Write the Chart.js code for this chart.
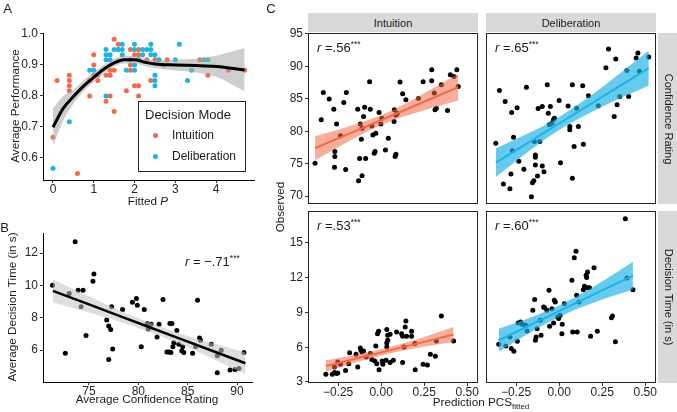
<!DOCTYPE html>
<html><head><meta charset="utf-8">
<script src="https://cdn.jsdelivr.net/npm/chart.js@4.4.0/dist/chart.umd.min.js"></script>
<style>
body{margin:0;background:#fff;}
#wrap{position:relative;width:677px;height:412px;overflow:hidden;font-family:"Liberation Sans",Arial,Helvetica,sans-serif;color:#1a1a1a;background:#fff;}
canvas{position:absolute;}
.t{position:absolute;white-space:nowrap;line-height:1;z-index:4;}
.strip{position:absolute;background:#d9d9d9;z-index:2;}
sup.s{font-size:8.5px;vertical-align:5px;line-height:0;}
sub.s{font-size:8px;vertical-align:-3px;line-height:0;}
</style></head><body><div id="wrap"></div>
<script>
// ---------- Panel A data ----------
const A_intX = [0,0.1,0.4,0.4,0.4,0.4,0.6,0.9,0.9,1.0,1.0,1.0,1.1,1.1,1.3,1.3,1.4,1.4,1.4,1.5,1.5,1.5,1.6,1.6,1.8,1.9,1.9,1.9,2.0,2.0,2.1,2.1,2.1,2.1,2.3,2.4,2.5,2.7,2.8,3.6,3.8,4.3,4.7];
const A_intY = [0.667,0.85,0.867,0.85,0.833,0.817,0.55,0.85,0.8,0.933,0.9,0.867,0.85,0.867,0.867,0.783,0.867,0.8,0.883,0.983,0.75,0.883,0.967,0.95,0.817,0.95,0.9,0.883,0.933,0.833,0.833,0.8,0.95,0.933,0.917,0.85,0.917,0.9,0.917,0.917,0.867,0.883,0.883];
const A_delX = [0,0.4,0.9,1.0,1.3,1.3,1.3,1.3,1.4,1.4,1.5,1.6,1.7,1.7,1.7,1.8,1.9,2.0,2.0,2.0,2.0,2.1,2.2,2.2,2.3,2.4,2.4,2.4,2.5,2.5,2.5,2.5,2.6,3.0,3.1,3.3,3.4,3.7,3.8];
const A_delY = [0.567,0.717,0.883,0.883,0.95,0.933,0.917,0.8,0.933,0.917,0.95,0.95,0.967,0.95,0.933,0.883,0.917,0.967,0.95,0.9,0.883,0.917,0.95,0.933,0.95,0.967,0.95,0.933,0.933,0.867,0.85,0.833,0.917,0.917,0.967,0.85,0.883,0.917,0.917];
const A_fitX = [0,0.25,0.5,0.75,1.0,1.25,1.5,1.75,2.0,2.25,2.5,3.0,3.5,4.0,4.7];
const A_fitY = [0.699,0.76,0.798,0.832,0.86,0.887,0.907,0.917,0.917,0.909,0.903,0.9,0.898,0.895,0.884];
const A_fitLo = [0.64,0.72,0.775,0.815,0.845,0.873,0.895,0.905,0.905,0.897,0.89,0.882,0.876,0.862,0.815];
const A_fitHi = [0.76,0.80,0.82,0.85,0.877,0.90,0.92,0.93,0.93,0.921,0.916,0.918,0.92,0.93,0.955];
const A_xTicks = [0,1,2,3,4];
const A_yTicks = [0.6,0.7,0.8,0.9,1.0];

// ---------- Panel B data ----------
const B_x = [71.3,73.0,72.6,73.6,73.9,74.4,74.2,74.7,75.5,75.4,76.8,77.0,77.2,77.0,77.3,77.4,78.4,79.4,79.8,79.9,80.3,80.6,80.9,81.0,81.3,81.9,82.1,82.5,82.9,83.1,83.2,83.4,83.3,83.5,83.6,83.9,84.1,84.5,84.4,84.6,85.5,85.8,86.2,86.0,86.3,87.4,88.0,88.0,88.4,89.3,89.8,90.2,90.7];
const B_y = [10.0,9.5,5.8,12.7,9.7,9.7,8.67,6.9,10.7,10.25,7.85,7.48,7.27,5.42,8.67,6.06,8.5,8.96,9.18,8.77,6.2,8.5,7.64,7.3,7.6,6.8,7.6,9.12,5.88,5.88,7.64,7.64,5.84,6.2,6.45,7.2,6.35,6.2,5.96,5.84,5.8,6.2,6.74,9.08,6.6,6.35,5.65,4.6,5.98,4.76,4.8,4.85,5.84];
const B_fitX = [71.34,75,78,81,84,87,90.85];
const B_fitY = [9.66,8.82,8.13,7.44,6.75,6.06,5.18];
const B_fitLo = [8.96,8.32,7.78,7.14,6.43,5.61,4.5];
const B_fitHi = [10.36,9.32,8.48,7.74,7.07,6.51,5.86];
const B_xTicks = [75,80,85,90];
const B_yTicks = [6,8,10,12];

// ---------- Panel C data ----------
const C_xTicks = [-0.25,0,0.25,0.5];
const C_confTicks = [70,75,80,85,90,95];
const C_timeTicks = [3,6,9,12,15];

const CI_conf_x = [-0.384,-0.348,-0.336,-0.302,-0.275,-0.269,-0.269,-0.271,-0.259,-0.236,-0.217,-0.206,-0.202,-0.136,-0.131,-0.125,-0.121,-0.115,-0.111,-0.111,-0.102,-0.096,-0.09,-0.067,-0.063,-0.054,-0.048,-0.04,-0.035,-0.031,-0.012,-0.002,0.004,0.025,0.042,0.075,0.077,0.081,0.086,0.086,0.094,0.11,0.125,0.144,0.217,0.244,0.294,0.294,0.309,0.313,0.321,0.35,0.386,0.402,0.423,0.44,0.448];
const CI_conf_y = [75.05,81.75,85.98,84.95,83.4,76.85,76.08,74.43,81.13,79.28,84.43,74.1,85.98,83.4,72.37,75.8,81.13,78.76,73.14,80.46,82.27,83.71,75.77,87.63,83.4,80.82,79.43,76.6,76.86,79.69,82.89,81.13,82.0,77.11,78.92,81.5,83.3,76.08,76.44,82.5,82.78,87.58,85.77,84.85,85.05,87.63,89.48,87.78,85.88,83.3,83.56,87.16,83.2,88.71,88.45,89.48,86.9];
const CI_conf_fitX = [-0.384,-0.25,-0.1,0.0,0.1,0.25,0.448];
const CI_conf_fit = [77.37,78.89,80.59,81.72,82.85,84.55,86.8];
const CI_conf_lo = [75.52,77.54,79.69,80.97,82.0,83.25,84.75];
const CI_conf_hi = [79.22,80.24,81.49,82.47,83.7,85.85,88.85];

const CD_conf_x = [-0.368,-0.347,-0.324,-0.314,-0.286,-0.28,-0.276,-0.272,-0.265,-0.244,-0.234,-0.205,-0.19,-0.161,-0.155,-0.147,-0.144,-0.138,-0.138,-0.138,-0.126,-0.122,-0.113,-0.098,-0.098,-0.088,-0.069,-0.063,-0.051,-0.057,-0.042,-0.033,-0.027,0.0,0.008,0.052,0.062,0.062,0.077,0.077,0.087,0.102,0.112,0.137,0.141,0.17,0.228,0.272,0.287,0.32,0.329,0.337,0.352,0.394,0.404,0.448,0.458,0.467,0.521];
const CD_conf_y = [78.14,86.29,71.86,84.59,71.13,73.4,82.89,77.0,79.07,83.6,75.36,74.12,86.8,69.9,72.06,72.37,78.4,76.34,75.98,74.79,73.09,83.5,78.4,74.64,83.8,73.76,87.16,82.78,83.8,80.98,81.24,81.75,82.0,84.74,75.15,83.9,80.72,80.21,87.16,72.73,77.63,83.56,80.72,87.0,77.99,85.46,83.92,89.79,92.68,82.27,91.13,84.07,85.36,89.38,85.36,91.29,92.06,89.23,91.44];
const CD_conf_fitX = [-0.368,-0.25,-0.1,0.0,0.1,0.25,0.521];
const CD_conf_fit = [75.15,77.09,79.55,81.19,82.83,85.29,89.74];
const CD_conf_lo = [72.95,75.39,78.4,80.19,81.73,83.79,87.04];
const CD_conf_hi = [77.35,78.79,80.7,82.19,83.93,86.79,92.44];

const CI_time_x = [-0.321,-0.284,-0.271,-0.259,-0.252,-0.271,-0.252,-0.236,-0.207,-0.183,-0.188,-0.146,-0.136,-0.121,-0.117,-0.111,-0.102,-0.086,-0.063,-0.054,-0.037,-0.031,-0.025,-0.021,-0.015,-0.012,0.006,0.01,0.029,0.033,0.033,0.033,0.038,0.038,0.052,0.052,0.071,0.09,0.119,0.125,0.125,0.14,0.144,0.148,0.133,0.177,0.177,0.196,0.198,0.244,0.269,0.286,0.315,0.321,0.35,0.421];
const CI_time_y = [3.66,3.66,3.81,3.72,3.78,4.3,4.73,4.52,4.0,5.53,4.58,5.39,4.3,5.94,5.73,5.59,5.68,5.16,5.45,4.93,4.81,6.11,4.58,7.17,7.37,4.06,4.81,4.52,4.87,7.52,6.37,6.02,6.6,7.03,7.12,4.67,4.87,7.32,7.17,4.67,6.94,7.75,8.27,6.94,6.02,7.37,6.94,6.31,4.06,4.52,4.47,5.39,5.22,6.54,8.7,6.54];
const CI_time_fitX = [-0.321,-0.2,-0.1,0.0,0.1,0.25,0.421];
const CI_time_fit = [4.38,4.82,5.19,5.55,5.92,6.46,7.09];
const CI_time_lo = [3.88,4.44,4.89,5.27,5.62,6.04,6.44];
const CI_time_hi = [4.88,5.2,5.49,5.83,6.22,6.88,7.74];

const CD_time_x = [-0.351,-0.31,-0.286,-0.278,-0.263,-0.243,-0.238,-0.224,-0.214,-0.195,-0.186,-0.153,-0.142,-0.138,-0.134,-0.128,-0.105,-0.109,-0.09,-0.086,-0.071,-0.059,-0.055,-0.042,-0.032,-0.028,-0.022,-0.009,-0.003,0.006,0.016,0.018,0.031,0.074,0.079,0.088,0.098,0.102,0.105,0.115,0.141,0.147,0.157,0.16,0.165,0.166,0.176,0.183,0.203,0.222,0.304,0.31,0.327,0.385,0.394,0.429];
const CD_time_y = [6.25,6.11,6.88,5.88,5.65,6.51,8.09,8.18,7.98,7.89,7.4,9.19,10.11,6.6,6.88,7.6,7.03,8.32,9.48,9.42,9.19,10.91,7.81,9.33,8.09,10.05,9.91,8.61,8.47,8.76,7.17,7.98,9.76,11.78,7.32,13.73,14.28,10.48,7.32,9.91,10.97,11.26,12.21,12.01,12.5,11.14,11.14,6.94,12.87,7.37,8.55,8.7,6.48,17.1,11.98,10.97];
const CD_time_fitX = [-0.351,-0.2,-0.1,0.0,0.1,0.25,0.429];
const CD_time_fit = [6.6,7.68,8.4,9.11,9.83,10.9,12.18];
const CD_time_lo = [5.6,6.98,7.85,8.61,9.28,10.12,10.98];
const CD_time_hi = [7.6,8.38,8.95,9.61,10.38,11.68,13.38];

// ---------- helpers ----------
const ORANGE = '#F26A48', BLUE = '#1DB3E4';
const FONT = '"Liberation Sans", Arial, Helvetica, sans-serif';
const wrap = document.getElementById('wrap');
const pts = (xs, ys) => xs.map((x, i) => ({x: x, y: ys[i]}));
const fmt2 = v => { const s = Math.abs(v).toFixed(2); return (v < -1e-9 ? '\u2212' : '') + s; };
const fmt1 = v => v.toFixed(1);
const fmt0 = v => String(Math.round(v));

function axisOpt(o, isX, size) {
  return {
    type: 'linear', min: o.min, max: o.max, position: isX ? 'bottom' : 'left',
    afterBuildTicks: s => { s.ticks = (o.ticks || []).map(v => ({value: v})); },
    afterFit: s => { if (isX) s.height = size; else s.width = size; },
    ticks: {display: !!o.show, autoSkip: false, maxRotation: 0, minRotation: 0, padding: isX ? -1 : 2,
      color: '#262626', font: {family: FONT, size: 12}, callback: v => (o.fmt ? o.fmt(v) : String(v))},
    grid: {display: !!o.show, drawOnChartArea: false, drawTicks: true, tickLength: 3, color: '#333', lineWidth: 1},
    border: {display: !!o.line, color: '#000', width: 1}
  };
}
const framePlugin = {
  id: 'frame',
  afterDatasetsDraw(chart) {
    const a = chart.chartArea, ctx = chart.ctx;
    ctx.save(); ctx.strokeStyle = '#222'; ctx.lineWidth = 1;
    ctx.strokeRect(Math.round(a.left) + 0.5, Math.round(a.top) + 0.5,
      Math.round(a.right - a.left) - 1, Math.round(a.bottom - a.top) - 1);
    ctx.restore();
  }
};
function makePanel(box, xo, yo, datasets, frame) {
  const ML = 45, MT = 12, MR = 18, MB = 28;
  const w = box.r - box.l + ML + MR, h = box.b - box.t + MT + MB;
  const c = document.createElement('canvas');
  c.width = w; c.height = h;
  Object.assign(c.style, {left: (box.l - ML) + 'px', top: (box.t - MT) + 'px', width: w + 'px', height: h + 'px'});
  wrap.appendChild(c);
  new Chart(c.getContext('2d'), {
    type: 'line',
    data: {datasets: datasets},
    options: {
      responsive: false, maintainAspectRatio: false, animation: false, devicePixelRatio: 1, events: [],
      layout: {padding: {left: 0, top: MT, right: MR, bottom: 0}},
      plugins: {legend: {display: false}, tooltip: {enabled: false}},
      scales: {x: axisOpt(xo, true, MB), y: axisOpt(yo, false, ML)}
    },
    plugins: frame ? [framePlugin] : []
  });
}
function pointsDS(xs, ys, color, order) {
  return {type: 'line', data: pts(xs, ys), showLine: false, pointRadius: 2.5, pointBackgroundColor: color,
    pointBorderColor: color, pointBorderWidth: 0, borderColor: 'rgba(0,0,0,0)', order: order};
}
function lineDS(xs, ys, color, width, smooth) {
  return {type: 'line', data: pts(xs, ys), borderColor: color, borderWidth: width, pointRadius: 0, fill: false,
    order: 0, tension: 0, cubicInterpolationMode: smooth ? 'monotone' : 'default', borderCapStyle: 'butt'};
}
function bandDS(xs, lo, hi, color, smooth) {
  const base = {type: 'line', pointRadius: 0, borderWidth: 1, borderColor: 'rgba(0,0,0,0)', order: 1,
    tension: 0, cubicInterpolationMode: smooth ? 'monotone' : 'default'};
  return [Object.assign({}, base, {data: pts(xs, hi), fill: '+1', backgroundColor: color}),
          Object.assign({}, base, {data: pts(xs, lo), fill: false})];
}

// ---------- Panel A ----------
makePanel({l: 43, t: 33, r: 254, b: 180},
  {min: -0.245, max: 4.93, ticks: A_xTicks, show: true, line: true, fmt: fmt0},
  {min: 0.529, max: 1.0032, ticks: A_yTicks, show: true, line: true, fmt: fmt1},
  [lineDS(A_fitX, A_fitY, '#000', 3, true)]
    .concat(bandDS(A_fitX, A_fitLo, A_fitHi, 'rgba(165,165,165,0.55)', true))
    .concat([pointsDS(A_intX, A_intY, ORANGE, 3), pointsDS(A_delX, A_delY, BLUE, 2)]), false);

// ---------- Panel B ----------
makePanel({l: 43, t: 233, r: 252, b: 382},
  {min: 70.34, max: 91.52, ticks: B_xTicks, show: true, line: true, fmt: fmt0},
  {min: 4.02, max: 13.24, ticks: B_yTicks, show: true, line: true, fmt: fmt0},
  [lineDS(B_fitX, B_fitY, '#000', 2.5, false)]
    .concat(bandDS(B_fitX, B_fitLo, B_fitHi, 'rgba(195,195,195,0.55)', true))
    .concat([pointsDS(B_x, B_y, '#000', 2)]), false);

// ---------- Panel C ----------
const CX = {min: -0.425, max: 0.563};
const CY_conf = {min: 68.77, max: 95.15};
const CY_time = {min: 2.91, max: 17.76};
const ORB = 'rgba(242,106,72,0.55)', BLB = 'rgba(29,179,228,0.68)';
function cPanel(box, showX, showY, yr, yt, xs, ys, fx, fy, flo, fhi, col, band) {
  makePanel(box,
    Object.assign({}, CX, {ticks: showX ? C_xTicks : [], show: showX, line: false, fmt: fmt2}),
    Object.assign({}, yr, {ticks: showY ? yt : [], show: showY, line: false, fmt: fmt0}),
    [lineDS(fx, fy, col, 2, false)].concat(bandDS(fx, flo, fhi, band, true)).concat([pointsDS(xs, ys, '#000', 2)]), true);
}
cPanel({l: 308, t: 33, r: 478, b: 204}, false, true, CY_conf, C_confTicks, CI_conf_x, CI_conf_y, CI_conf_fitX, CI_conf_fit, CI_conf_lo, CI_conf_hi, ORANGE, ORB);
cPanel({l: 486, t: 33, r: 656, b: 204}, false, false, CY_conf, C_confTicks, CD_conf_x, CD_conf_y, CD_conf_fitX, CD_conf_fit, CD_conf_lo, CD_conf_hi, BLUE, BLB);
cPanel({l: 308, t: 211, r: 478, b: 383}, true, true, CY_time, C_timeTicks, CI_time_x, CI_time_y, CI_time_fitX, CI_time_fit, CI_time_lo, CI_time_hi, ORANGE, ORB);
cPanel({l: 486, t: 211, r: 656, b: 383}, true, false, CY_time, C_timeTicks, CD_time_x, CD_time_y, CD_time_fitX, CD_time_fit, CD_time_lo, CD_time_hi, BLUE, BLB);

// ---------- text / strips / legend ----------
function strip(l, t, w, h) {
  const d = document.createElement('div'); d.className = 'strip';
  Object.assign(d.style, {left: l + 'px', top: t + 'px', width: w + 'px', height: h + 'px'});
  wrap.appendChild(d);
}
function txt(html, x, y, size, opts) {
  opts = opts || {};
  const d = document.createElement('div'); d.className = 't'; d.innerHTML = html;
  d.style.left = x + 'px'; d.style.top = y + 'px'; d.style.fontSize = size + 'px';
  const tx = opts.anchor === 'left' ? '0' : '-50%';
  d.style.transform = 'translate(' + tx + ',-50%)' + (opts.rot ? ' rotate(' + opts.rot + 'deg)' : '');
  if (opts.color) d.style.color = opts.color;
  wrap.appendChild(d);
  return d;
}
strip(308, 13, 170, 19); strip(486, 13, 170, 19);
strip(658, 33, 19, 171); strip(658, 211, 19, 172);
txt('Intuition', 393, 22.5, 11);
txt('Deliberation', 571, 22.5, 11);
txt('Confidence Rating', 667.5, 118.5, 11, {rot: 90});
txt('Decision Time (in s)', 667.5, 297, 11, {rot: 90});

txt('A', 7.5, 8, 13); txt('B', 4.5, 227, 13); txt('C', 271, 8, 13);

txt('Average Performance', 15, 106, 11.7, {rot: -90});
txt('Fitted <i>P</i>', 148, 201, 11.7);
txt('Average Decision Time (in s)', 12, 307, 11.7, {rot: -90});
txt('Average Confidence Rating', 147, 399, 11.7);
txt('Observed', 280, 207, 11.7, {rot: -90});
txt('Prediction PCS<sub class="s">fitted</sub>', 481, 402, 11.7);

txt('<i>r</i> = \u2212.71<sup class="s">***</sup>', 185, 261, 13, {anchor: 'left'});
txt('<i>r</i> =.56<sup class="s">***</sup>', 317, 47, 13, {anchor: 'left'});
txt('<i>r</i> =.65<sup class="s">***</sup>', 495, 47, 13, {anchor: 'left'});
txt('<i>r</i> =.53<sup class="s">***</sup>', 317, 225, 13, {anchor: 'left'});
txt('<i>r</i> =.60<sup class="s">***</sup>', 495, 225, 13, {anchor: 'left'});

// legend box of panel A
const lg = document.createElement('div');
Object.assign(lg.style, {position: 'absolute', left: '138px', top: '101px', width: '106px', height: '69px',
  border: '1px solid #222', background: '#fff', zIndex: 3});
wrap.appendChild(lg);
txt('Decision Mode', 145, 114, 13, {anchor: 'left'});
function dot(x, y, c) {
  const d = document.createElement('div');
  Object.assign(d.style, {position: 'absolute', left: (x - 2.5) + 'px', top: (y - 2.5) + 'px', width: '5px', height: '5px',
    borderRadius: '50%', background: c, zIndex: 4});
  wrap.appendChild(d);
}
dot(155, 135, ORANGE); dot(155, 156, BLUE);
txt('Intuition', 172, 135, 12, {anchor: 'left'});
txt('Deliberation', 172, 156, 12, {anchor: 'left'});
</script></body></html>
